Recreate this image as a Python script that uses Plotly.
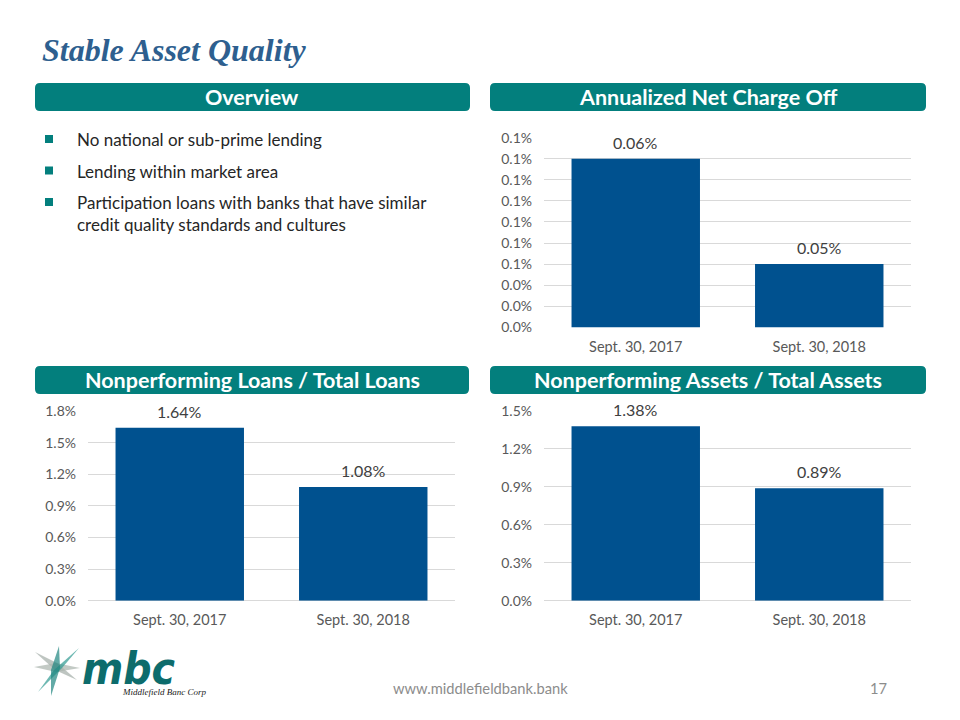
import plotly.graph_objects as go

# ---- data
dates = ['Sept. 30, 2017', 'Sept. 30, 2018']
net_charge_off = [0.06, 0.05]
npl_ratio = [1.64, 1.08]
npa_ratio = [1.38, 0.89]

# net charge off axis shows rounded ticks (one decimal), like the slide
nco_tickvals = [0.044, 0.046, 0.048, 0.050, 0.052, 0.054, 0.056, 0.058, 0.060, 0.062]
nco_ticktext = ['0.0%', '0.0%', '0.0%', '0.1%', '0.1%', '0.1%', '0.1%', '0.1%', '0.1%', '0.1%']
npl_tickvals = [0, 0.3, 0.6, 0.9, 1.2, 1.5, 1.8]
npa_tickvals = [0, 0.3, 0.6, 0.9, 1.2, 1.5]

bullets = [
    'No national or sub-prime lending',
    'Lending within market area',
    'Participation loans with banks that have similar<br>credit quality standards and cultures',
]

# ---- style
W, H = 960, 720
BAR = '#00518f'
TEAL = '#037f7d'
GRID = '#d9d9d9'
TICK = '#595959'
FONT = 'Lato'


def px(x, y):
    return x / W, 1 - y / H


def rounded_box(x0, y0, x1, y1, r=5):
    # path in paper coords for a rounded rectangle given in pixels
    a, b = px(x0, y0)
    c, d = px(x1, y1)
    rx, ry = r / W, r / H
    return (f'M {a+rx},{b} L {c-rx},{b} Q {c},{b} {c},{b-ry} '
            f'L {c},{d+ry} Q {c},{d} {c-rx},{d} '
            f'L {a+rx},{d} Q {a},{d} {a},{d+ry} '
            f'L {a},{b-ry} Q {a},{b} {a+rx},{b} Z')


fig = go.Figure()
annotations = []

# ---- bars (labels as annotations so they sit a bit higher, as on the slide)
for vals, xa, ya in [(net_charge_off, 'x', 'y'), (npl_ratio, 'x2', 'y2'), (npa_ratio, 'x3', 'y3')]:
    fig.add_trace(
        go.Bar(
            x=dates,
            y=vals,
            xaxis=xa,
            yaxis=ya,
            marker=dict(color=BAR, line=dict(width=0)),
            showlegend=False,
            hoverinfo='skip',
        )
    )
    for d, v in zip(dates, vals):
        annotations.append(dict(
            x=d, y=v, xref=xa, yref=ya, xanchor='center', yanchor='bottom', yshift=5,
            text=f'{v:.2f}%', showarrow=False,
            font=dict(family=FONT, size=16, color='#404040'),
        ))

axis_x = dict(
    type='category',
    showgrid=False,
    showline=False,
    zeroline=False,
    automargin=False,
    ticks='',
    ticklabelstandoff=9,
    tickfont=dict(family=FONT, size=14.5, color=TICK),
)
axis_y = dict(
    showgrid=True,
    gridcolor=GRID,
    gridwidth=1,
    showline=False,
    zeroline=True,
    zerolinecolor=GRID,
    zerolinewidth=1,
    automargin=False,
    ticks='',
    ticklabelstandoff=11,
    tickfont=dict(family=FONT, size=14, color=TICK),
)

# pixel positions of the three plot areas
tr_x = [px(544, 0)[0], px(911, 0)[0]]
bl_x = [px(88, 0)[0], px(455, 0)[0]]
top_y = [px(0, 327.3)[1], px(0, 137.7)[1]]
bot_y = [px(0, 600.7)[1], px(0, 411)[1]]

fig.update_layout(
    width=W,
    height=H,
    autosize=False,
    margin=dict(l=0, r=0, t=0, b=0, pad=0, autoexpand=False),
    paper_bgcolor='white',
    plot_bgcolor='white',
    showlegend=False,
    bargap=0.3,
    xaxis=dict(axis_x, domain=tr_x, anchor='y'),
    yaxis=dict(axis_y, domain=top_y, anchor='x', range=[0.044, 0.062],
               tickvals=nco_tickvals, ticktext=nco_ticktext),
    xaxis2=dict(axis_x, domain=bl_x, anchor='y2'),
    yaxis2=dict(axis_y, domain=bot_y, anchor='x2', range=[0, 1.8],
                tickvals=npl_tickvals, ticktext=[f'{v:.1f}%' for v in npl_tickvals]),
    xaxis3=dict(axis_x, domain=tr_x, anchor='y3'),
    yaxis3=dict(axis_y, domain=bot_y, anchor='x3', range=[0, 1.5],
                tickvals=npa_tickvals, ticktext=[f'{v:.1f}%' for v in npa_tickvals]),
)

shapes = []

# ---- title
tx, ty = px(40, 50)
annotations.append(dict(
    x=tx, y=ty, xref='paper', yref='paper', xanchor='left', yanchor='middle',
    text='<b><i>Stable Asset Quality</i></b>', showarrow=False,
    font=dict(family='Liberation Serif', size=32, color='#2e5f8f'),
))

# ---- header boxes
headers = [
    ('Overview', 35, 83, 470, 111),
    ('Annualized Net Charge Off', 490, 83, 926, 111),
    ('Nonperforming Loans / Total Loans', 35, 366, 469, 394),
    ('Nonperforming Assets / Total Assets', 490, 366, 926, 394),
]
for label, x0, y0, x1, y1 in headers:
    shapes.append(dict(type='path', path=rounded_box(x0, y0, x1, y1), xref='paper', yref='paper',
                       fillcolor=TEAL, line=dict(width=0), layer='below'))
    cx, cy = px((x0 + x1) / 2, (y0 + y1) / 2)
    annotations.append(dict(
        x=cx, y=cy, xref='paper', yref='paper', xanchor='center', yanchor='middle',
        text=f'<b>{label}</b>', showarrow=False,
        font=dict(family=FONT, size=21.5, color='white'),
    ))

# ---- bullets
for i, b in enumerate(bullets):
    yy = 139 + i * 31.5
    a0, b0 = px(45, yy - 4)
    a1, b1 = px(53, yy + 4)
    shapes.append(dict(type='rect', x0=a0, y0=b0, x1=a1, y1=b1, xref='paper', yref='paper',
                       fillcolor=TEAL, line=dict(width=0)))
    bx, by = px(75, yy - 12)
    annotations.append(dict(
        x=bx, y=by, xref='paper', yref='paper', xanchor='left', yanchor='top', align='left',
        text=b, showarrow=False,
        font=dict(family=FONT, size=17, color='#262626'),
    ))

# ---- footer
fx, fy = px(480, 688)
annotations.append(dict(x=fx, y=fy, xref='paper', yref='paper', xanchor='center', yanchor='middle',
                        text='www.middlefieldbank.bank', showarrow=False,
                        font=dict(family=FONT, size=14.7, color='#8c8c8c')))
fx, fy = px(878, 688)
annotations.append(dict(x=fx, y=fy, xref='paper', yref='paper', xanchor='center', yanchor='middle',
                        text='17', showarrow=False,
                        font=dict(family=FONT, size=14.7, color='#8c8c8c')))

# ---- logo (rough drawing of the star + lettering)
star = [
    ([(35, 652), (57, 663), (77, 680), (55, 670)], '#a3ada6'),
    ([(34, 667), (56, 663), (80, 668), (56, 672)], '#a9b3ad'),
    ([(79, 648), (62, 668), (38, 692), (54, 670)], '#2f9a92'),
    ([(59, 646), (60, 668), (51, 696), (51, 670)], '#1f8680'),
]
for pts, col in star:
    p = 'M ' + ' L '.join(f'{px(x, y)[0]},{px(x, y)[1]}' for x, y in pts) + ' Z'
    shapes.append(dict(type='path', path=p, xref='paper', yref='paper',
                       fillcolor=col, opacity=0.7, line=dict(width=0)))
lx, ly = px(80, 668)
annotations.append(dict(x=lx, y=ly, xref='paper', yref='paper', xanchor='left', yanchor='middle',
                        text='<b><i>mbc</i></b>', showarrow=False,
                        font=dict(family='DejaVu Sans Condensed, Liberation Sans Narrow', size=44,
                                  color='#0d6c6c')))
lx, ly = px(120, 692)
annotations.append(dict(x=lx, y=ly, xref='paper', yref='paper', xanchor='left', yanchor='middle',
                        text='<i>Middlefield Banc Corp</i>', showarrow=False,
                        font=dict(family='Liberation Serif', size=9, color='#1a1a1a')))

fig.update_layout(shapes=shapes, annotations=annotations)

fig.write_html('out.html', config={'displayModeBar': False},
               post_script="document.body.style.margin='0px';")
